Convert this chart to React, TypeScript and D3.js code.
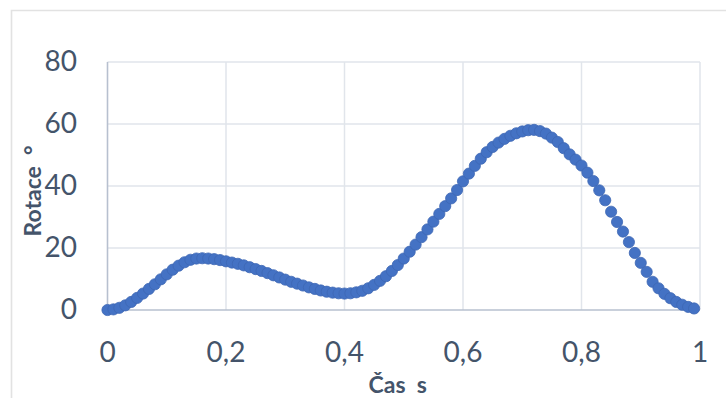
import React from "react";
import * as d3 from "d3";

const times: number[] = Array.from({ length: 100 }, (_, i) => i / 100);
const rotation: number[] = [
  0.0, 0.2, 0.7, 1.5, 2.6, 3.9, 5.3, 6.8, 8.3, 9.9,
  11.5, 13.0, 14.3, 15.4, 16.2, 16.6, 16.7, 16.6, 16.4, 16.1,
  15.7, 15.3, 14.9, 14.4, 13.8, 13.2, 12.6, 11.9, 11.2, 10.5,
  9.8, 9.1, 8.5, 7.9, 7.3, 6.8, 6.3, 5.9, 5.6, 5.4,
  5.3, 5.4, 5.7, 6.2, 7.0, 8.1, 9.4, 10.9, 12.6, 14.5,
  16.6, 18.8, 21.1, 23.5, 26.0, 28.5, 31.0, 33.5, 36.0, 38.7,
  41.5, 44.0, 46.5, 48.8, 50.9, 52.6, 54.0, 55.2, 56.2, 57.0,
  57.6, 58.0, 58.1, 57.7, 56.9, 55.6, 54.2, 52.2, 50.2, 48.5,
  46.6, 44.3, 41.6, 38.6, 35.4, 31.7, 28.4, 25.3, 21.9, 18.4,
  15.2, 12.3, 9.1, 7.0, 5.2, 3.8, 2.6, 1.7, 1.0, 0.5,
];
const xTicks: number[] = [0, 0.2, 0.4, 0.6, 0.8, 1];
const yTicks: number[] = [0, 20, 40, 60, 80];
const xTitle = "Čas  s";
const yTitle = "Rotace  °";

export default function App() {
  const W = 726;
  const H = 398;
  const x = d3.scaleLinear().domain([0, 1]).range([107.5, 700]);
  const y = d3.scaleLinear().domain([0, 80]).range([310, 62]);
  const fmt = (v: number) => String(v).replace(".", ",");
  const font = "Lato, 'Open Sans', sans-serif";
  const labelColor = "#44546a";

  return (
    <svg
      width={W}
      height={H}
      style={{ position: "absolute", left: 0, top: 0, background: "#fff" }}
    >
      <rect x={0} y={0} width={W} height={H} fill="#fff" />
      <path d={`M11.5,${H + 5} L11.5,10.5 L${W + 5},10.5`} fill="none" stroke="#e2e2e2" strokeWidth={1.6} />
      {yTicks.filter((t) => t !== 0).map((t) => (
        <line key={"gy" + t} x1={x(0)} x2={x(1)} y1={y(t)} y2={y(t)} stroke="#e1e5eb" strokeWidth={1.5} />
      ))}
      {xTicks.filter((t) => t !== 0).map((t) => (
        <line key={"gx" + t} x1={x(t)} x2={x(t)} y1={y(0)} y2={y(80)} stroke="#e1e5eb" strokeWidth={1.5} />
      ))}
      <line x1={x(0)} x2={x(0)} y1={y(0)} y2={y(80)} stroke="#b7c0cf" strokeWidth={1.6} />
      <line x1={x(0)} x2={x(1)} y1={y(0)} y2={y(0)} stroke="#b7c0cf" strokeWidth={1.6} />
      {yTicks.map((t) => (
        <text key={"ty" + t} x={77} y={y(t) + 8.5} textAnchor="end" fontFamily={font} fontSize={28} fill={labelColor}>
          {fmt(t)}
        </text>
      ))}
      {xTicks.map((t) => (
        <text key={"tx" + t} x={x(t)} y={361.5} textAnchor="middle" fontFamily={font} fontSize={28} fill={labelColor}>
          {fmt(t)}
        </text>
      ))}
      <text
        transform={`translate(41,${(y(0) + y(80)) / 2 + 5}) rotate(-90)`}
        textAnchor="middle"
        fontFamily={font}
        fontWeight="bold"
        fontSize={23}
        fill={labelColor}
        style={{ whiteSpace: "pre" }}
      >
        {yTitle}
      </text>
      <text
        x={(x(0) + x(1)) / 2 - 6}
        y={393}
        textAnchor="middle"
        fontFamily={font}
        fontWeight="bold"
        fontSize={23}
        fill={labelColor}
        style={{ whiteSpace: "pre" }}
      >
        {xTitle}
      </text>
      {rotation.map((v, i) => (
        <circle key={i} cx={x(times[i])} cy={y(v)} r={5.6} fill="#4472c4" stroke="#3d67b4" strokeWidth={0.8} />
      ))}
    </svg>
  );
}
